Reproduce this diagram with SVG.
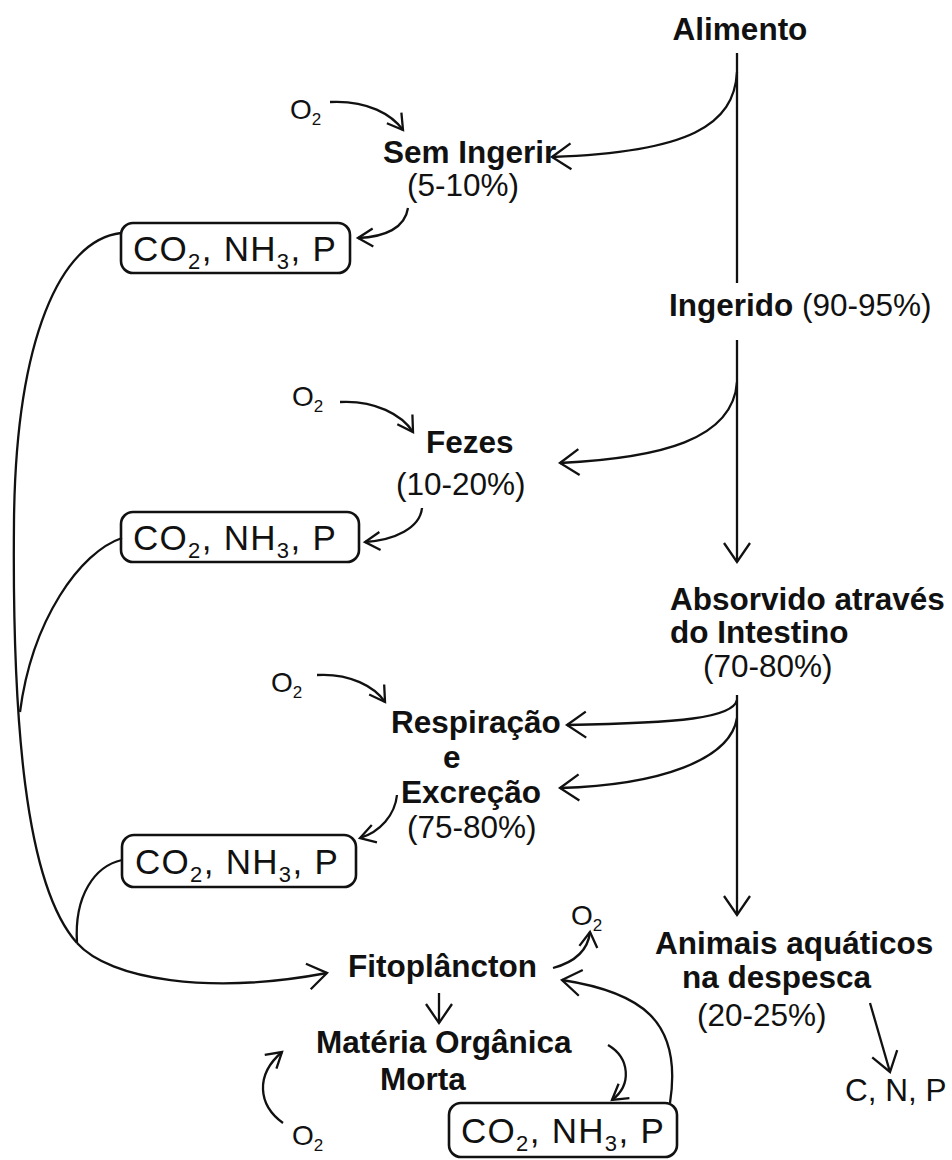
<svg xmlns="http://www.w3.org/2000/svg" width="952" height="1160" viewBox="0 0 952 1160">
<defs>
<style>
.b{font-family:"Liberation Sans",Arial,sans-serif;font-weight:bold;font-size:31.5px;fill:#111}
.r{font-family:"Liberation Sans",Arial,sans-serif;font-size:31.5px;fill:#111}
.o{font-family:"Liberation Sans",Arial,sans-serif;font-size:28px;fill:#111}
.bx{font-family:"Liberation Sans",Arial,sans-serif;font-size:35px;letter-spacing:1.3px;fill:#111}
.box{fill:none;stroke:#111;stroke-width:2.6}
.c{fill:none;stroke:#111;stroke-width:2.3}
.big{marker-end:url(#ah)}
.sm{marker-end:url(#as)}
</style>
<marker id="ah" markerUnits="userSpaceOnUse" markerWidth="24" markerHeight="30" viewBox="0 0 24 30" refX="21" refY="15" orient="auto">
<path d="M2,2 L21,15 L2,28" fill="none" stroke="#111" stroke-width="2.3"/>
</marker>
<marker id="as" markerUnits="userSpaceOnUse" markerWidth="20" markerHeight="22" viewBox="0 0 20 22" refX="17" refY="11" orient="auto">
<path d="M2,2 L17,11 L2,20" fill="none" stroke="#111" stroke-width="2.3"/>
</marker>
</defs>
<rect width="952" height="1160" fill="#fff"/>

<g id="connectors">
<path class="c" d="M737,53 L737,283"/>
<path class="c big" d="M737,72 C734,125 690,152 552,157"/>
<path class="c sm" d="M330,102 C368,100 392,115 403,130"/>
<path class="c sm" d="M408,208 C405,228 385,237 358,238"/>
<path class="c big" d="M737,340 L737,562"/>
<path class="c big" d="M737,382 C733,440 660,458 560,463"/>
<path class="c sm" d="M340,402 C375,400 402,415 413,432"/>
<path class="c sm" d="M422,508 C420,528 395,540 365,542"/>
<path class="c big" d="M737,695 L737,915"/>
<path class="c big" d="M737,700 C733,718 680,723 567,725"/>
<path class="c big" d="M737,718 C730,760 660,785 560,788"/>
<path class="c sm" d="M317,675 C350,673 375,687 385,702"/>
<path class="c sm" d="M397,795 C395,815 380,832 360,838"/>
<path class="c" d="M121,233 C60,240 16,340 14,520 C12,720 25,885 77,943"/>
<path class="c" d="M122,538 C80,552 32,620 20,712"/>
<path class="c" d="M122,860 C95,866 74,895 77,943"/>
<path class="c big" d="M77,943 C110,980 210,995 327,973"/>
<path class="c sm" d="M553,968 C575,962 588,950 590,932"/>
<path class="c big" d="M439,993 L439,1023"/>
<path class="c big" d="M670,1103 C683,1020 640,992 562,980"/>
<path class="c sm" d="M608,1045 C630,1058 632,1085 612,1100"/>
<path class="c sm" d="M283,1123 C258,1105 255,1075 282,1052"/>
<path class="c big" d="M870,1003 L890,1072"/>
</g>

<g id="alimento"><text class="b" x="740" y="40" text-anchor="middle">Alimento</text></g>
<g id="sem-ingerir">
<text class="b" x="383" y="163">Sem Ingerir</text>
<text class="r" x="407" y="196">(5-10%)</text>
</g>
<g id="o2-1"><text class="o" x="290" y="119">O<tspan font-size="17" dy="6">2</tspan></text></g>
<g id="box1">
<rect class="box" x="121" y="223" width="229" height="50" rx="12"/>
<text class="bx" x="133" y="261">CO<tspan font-size="22" dy="8">2</tspan><tspan dy="-8">, NH</tspan><tspan font-size="22" dy="8">3</tspan><tspan dy="-8">, P</tspan></text>
</g>
<g id="ingerido"><text x="669" y="316"><tspan class="b">Ingerido</tspan><tspan class="r"> (90-95%)</tspan></text></g>
<g id="o2-2"><text class="o" x="292" y="406">O<tspan font-size="17" dy="6">2</tspan></text></g>
<g id="fezes">
<text class="b" x="426" y="453">Fezes</text>
<text class="r" x="396" y="495">(10-20%)</text>
</g>
<g id="box2">
<rect class="box" x="121" y="512" width="238" height="50" rx="12"/>
<text class="bx" x="133" y="550">CO<tspan font-size="22" dy="8">2</tspan><tspan dy="-8">, NH</tspan><tspan font-size="22" dy="8">3</tspan><tspan dy="-8">, P</tspan></text>
</g>
<g id="absorvido">
<text class="b" x="670" y="610">Absorvido através</text>
<text class="b" x="670" y="643">do Intestino</text>
<text class="r" x="703" y="677">(70-80%)</text>
</g>
<g id="o2-3"><text class="o" x="271" y="692">O<tspan font-size="17" dy="6">2</tspan></text></g>
<g id="respiracao">
<text class="b" x="391" y="733">Respiração</text>
<text class="b" x="443" y="768">e</text>
<text class="b" x="401" y="803">Excreção</text>
<text class="r" x="407" y="838">(75-80%)</text>
</g>
<g id="box3">
<rect class="box" x="122" y="835" width="234" height="52" rx="12"/>
<text class="bx" x="135" y="874">CO<tspan font-size="22" dy="8">2</tspan><tspan dy="-8">, NH</tspan><tspan font-size="22" dy="8">3</tspan><tspan dy="-8">, P</tspan></text>
</g>
<g id="fitoplancton"><text class="b" x="348" y="977">Fitoplâncton</text></g>
<g id="o2-4"><text class="o" x="571" y="925">O<tspan font-size="17" dy="6">2</tspan></text></g>
<g id="materia">
<text class="b" x="316" y="1053">Matéria Orgânica</text>
<text class="b" x="380" y="1090">Morta</text>
</g>
<g id="o2-5"><text class="o" x="292" y="1145">O<tspan font-size="17" dy="6">2</tspan></text></g>
<g id="box4">
<rect class="box" x="449" y="1103" width="228" height="54" rx="12"/>
<text class="bx" x="461" y="1143">CO<tspan font-size="22" dy="8">2</tspan><tspan dy="-8">, NH</tspan><tspan font-size="22" dy="8">3</tspan><tspan dy="-8">, P</tspan></text>
</g>
<g id="animais">
<text class="b" x="655" y="954">Animais aquáticos</text>
<text class="b" x="682" y="988">na despesca</text>
<text class="r" x="697" y="1026">(20-25%)</text>
</g>
<g id="cnp"><text class="r" x="845" y="1101">C, N, P</text></g>
</svg>
